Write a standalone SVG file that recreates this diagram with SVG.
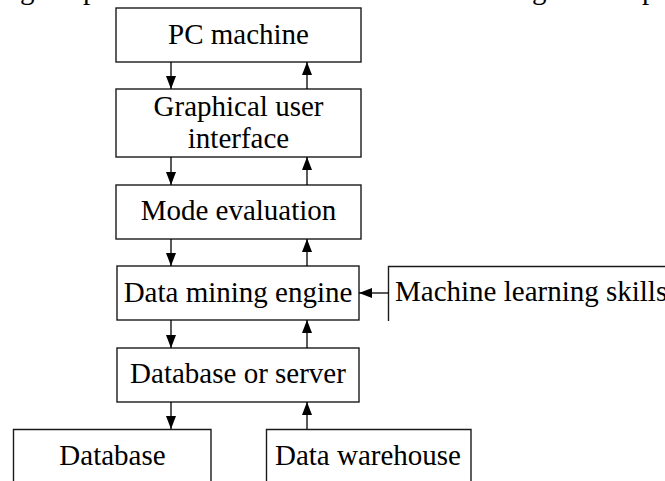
<svg xmlns="http://www.w3.org/2000/svg" width="665" height="481" viewBox="0 0 665 481">
  <style>
    .box { fill: #fff; stroke: #1a1a1a; stroke-width: 1.4; }
    .open { fill: none; stroke: #1a1a1a; stroke-width: 1.4; }
    .lbl { font-size: 29px; fill: #000; }
    .mid { text-anchor: middle; }
    .wire { fill: none; stroke: #000; stroke-width: 1.3; }
  </style>
  <defs>
    <marker id="head" markerWidth="13" markerHeight="10" refX="13" refY="5" orient="auto" markerUnits="userSpaceOnUse" viewBox="0 0 13 10">
      <path d="M0,0 L13,5 L0,10 Z" fill="#000"/>
    </marker>
  </defs>
  <rect width="665" height="481" fill="#fff"/>

  <g font-family="Liberation Serif, Times New Roman, Tinos, DejaVu Serif, serif">
    <!-- descenders of the line running above -->
    <g id="cut-line">
      <text class="lbl" x="20" y="-1">g</text>
      <text class="lbl" x="83" y="-1">p</text>
      <text class="lbl" x="532" y="-1">g</text>
      <text class="lbl" x="642" y="-1">p</text>
    </g>

    <g id="pc">
      <rect class="box" x="116" y="8" width="245" height="54"/>
      <text class="lbl mid" x="238.5" y="44">PC machine</text>
    </g>
    <g id="gui">
      <rect class="box" x="116" y="89" width="245" height="68"/>
      <text class="lbl mid" x="238.5" y="116">Graphical user</text>
      <text class="lbl mid" x="238.5" y="148">interface</text>
    </g>
    <g id="mode">
      <rect class="box" x="116" y="185" width="245" height="54"/>
      <text class="lbl mid" x="238.5" y="220">Mode evaluation</text>
    </g>
    <g id="engine">
      <rect class="box" x="117" y="266" width="242" height="54"/>
      <text class="lbl mid" x="238" y="302">Data mining engine</text>
    </g>
    <g id="ml">
      <path class="open" d="M665,266.5 H388.5 V321"/>
      <text class="lbl" x="395" y="301">Machine learning skills</text>
    </g>
    <g id="dbserver">
      <rect class="box" x="117" y="348" width="242" height="54"/>
      <text class="lbl mid" x="238" y="383">Database or server</text>
    </g>
    <g id="db">
      <path class="open" d="M13.5,481 V429.5 H211 V481"/>
      <text class="lbl mid" x="112.5" y="465">Database</text>
    </g>
    <g id="dw">
      <path class="open" d="M266.5,481 V429.5 H471 V481"/>
      <text class="lbl mid" x="368" y="465">Data warehouse</text>
    </g>
  </g>

  <g id="connectors">
    <line class="wire" x1="171" y1="62" x2="171" y2="89" marker-end="url(#head)"/>
    <line class="wire" x1="307" y1="89" x2="307" y2="62" marker-end="url(#head)"/>
    <line class="wire" x1="171" y1="157" x2="171" y2="185" marker-end="url(#head)"/>
    <line class="wire" x1="307" y1="185" x2="307" y2="157" marker-end="url(#head)"/>
    <line class="wire" x1="171" y1="239" x2="171" y2="266" marker-end="url(#head)"/>
    <line class="wire" x1="307" y1="266" x2="307" y2="239" marker-end="url(#head)"/>
    <line class="wire" x1="171" y1="320" x2="171" y2="348" marker-end="url(#head)"/>
    <line class="wire" x1="307" y1="348" x2="307" y2="320" marker-end="url(#head)"/>
    <line class="wire" x1="171" y1="402" x2="171" y2="429" marker-end="url(#head)"/>
    <line class="wire" x1="307" y1="429" x2="307" y2="402" marker-end="url(#head)"/>
    <line class="wire" x1="388.5" y1="293" x2="359" y2="293" marker-end="url(#head)"/>
  </g>
</svg>
